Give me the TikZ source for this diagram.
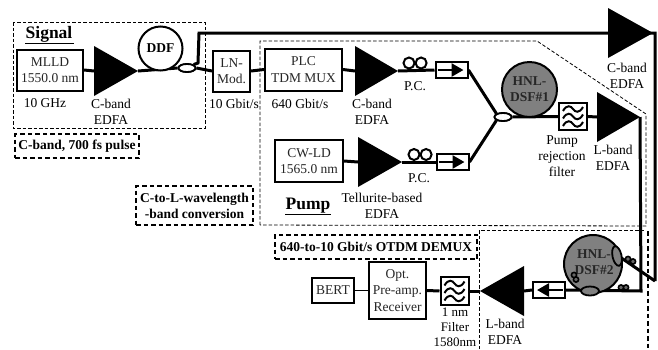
\documentclass[tikz,border=0pt]{standalone}
\usepackage{fontspec}
\setmainfont{Liberation Serif}
\usetikzlibrary{arrows.meta,shapes.geometric}
\newcommand{\amptri}[3]{\fill[black] (#1,#2-25) -- (#1,#2+25) -- (#1+#3,#2) -- cycle;}
\newcommand{\pcpair}[4]{\draw[line width=2pt] (#1,#2) circle[radius=#4] (#1+2.2*#4,#2) circle[radius=#4];}
\newcommand{\filtersym}[2]{%
  \foreach \dy in {-7.5,0,7.5}{\draw[line width=2pt] (#1-10,#2+\dy+2) .. controls (#1-6,#2+\dy-5) and (#1-2,#2+\dy-3) .. (#1,#2+\dy) .. controls (#1+2,#2+\dy+3) and (#1+6,#2+\dy+5) .. (#1+10,#2+\dy-2);}}
\begin{document}
\begin{tikzpicture}[x=1pt,y=-1pt,
  txt/.style={font=\fontsize{13.5}{16.3}\selectfont,inner sep=0pt,align=center,text=black},
  btxt/.style={font=\fontsize{13.5}{16}\selectfont\bfseries,inner sep=0pt,align=center},
  headtxt/.style={font=\fontsize{17.5}{19}\selectfont\bfseries,inner sep=0pt},
  devbox/.style={draw,line width=2pt,fill=white,inner sep=0pt,align=center,font=\fontsize{13.5}{16.5}\selectfont,text=black!85},
  fib/.style={line width=3pt},
  thinfib/.style={line width=1.7pt},
  dashthin/.style={line width=0.8pt,dash pattern=on 3.5pt off 2pt},
  dashthick/.style={line width=1.6pt,dash pattern=on 4.5pt off 3pt},
  coupler/.style={ellipse,draw,line width=1.8pt,fill=white,minimum width=17pt,minimum height=8pt,inner sep=0pt},
  gcoupler/.style={ellipse,draw,line width=1.8pt,fill=gray,minimum width=18pt,minimum height=9pt,inner sep=0pt},
  hnl/.style={circle,draw,line width=2pt,fill=gray,inner sep=0pt,align=center,font=\fontsize{13.5}{16}\selectfont\bfseries,text=black!85},
  isobox/.style={draw,line width=2pt,fill=white,minimum width=32pt,minimum height=16pt,inner sep=0pt},
  filtbox/.style={draw,line width=2pt,fill=white,minimum width=28pt,minimum height=27pt,inner sep=0pt},
  arr/.style={line width=2.6pt,-{Triangle[length=12pt,width=13pt]}}
]
\useasboundingbox (0,0) rectangle (658,349);
% dashed regions
\draw[dashthin,draw=black] (13,22) rectangle (205,128);
\draw[dashthin,draw=black] (260,225) -- (260,41) -- (537,41) -- (646,114) -- (646,226) -- cycle;
\draw[dashthin] (479,349) -- (479,230) -- (644,230);
\draw[dashthick] (648,231) -- (648,349);
\node[draw,dashthick,minimum width=124pt,minimum height=24pt,inner sep=0pt] (boxc) at (77,146) {};
\node[btxt] at (boxc) {C-band, 700 fs pulse};
\node[draw,dashthick,minimum width=117pt,minimum height=39pt,inner sep=0pt] (boxw) at (194.5,205.5) {};
\node[btxt] at (boxw) {C-to-L-wavelength\\-band conversion};
\node[draw,dashthick,minimum width=202pt,minimum height=24pt,inner sep=0pt] (boxd) at (376,247) {};
\node[btxt] at (boxd) {640-to-10 Gbit/s OTDM DEMUX};
% nodes
\node[devbox,minimum width=66pt,minimum height=41pt] (mlld) at (50,70) {MLLD\\1550.0 nm};
\node[devbox,minimum width=37pt,minimum height=41pt] (ln) at (231.5,71) {LN-\\Mod.};
\node[devbox,minimum width=77pt,minimum height=42pt] (plc) at (303.5,69.5) {PLC\\TDM MUX};
\node[devbox,minimum width=68pt,minimum height=42pt] (cw) at (309,161) {CW-LD\\1565.0 nm};
\node[coupler] (c1) at (187,68) {};
\node[coupler] (c2) at (503,117) {};
\node[isobox] (iso1) at (451.5,70) {};
\node[isobox] (iso2) at (452.5,162) {};
\node[filtbox] (f1) at (573,116.5) {};
\node[filtbox,minimum height=28pt] (f2) at (454.5,291) {};
\node[isobox] (iso3) at (549,290) {};
\node[devbox,minimum width=57pt,minimum height=57pt] (opt) at (397.5,290.5) {Opt.\\Pre-amp.\\Receiver};
\node[devbox,line width=1.2pt,minimum width=42pt,minimum height=25pt] (bert) at (333,290.5) {BERT};
\coordinate (tipA) at (138,71);
\coordinate (corner1) at (199,33);
\coordinate (amp1in) at (355,71);
\coordinate (amp2in) at (358,162);
\coordinate (amp3in) at (597,117);
\coordinate (amp4in) at (524,291);
\coordinate (topend) at (655,33);
\coordinate (botend) at (655,281);
\coordinate (lcorner) at (641,291);
\coordinate (ltip) at (640,117);
\coordinate (tip2) at (480,291);
\coordinate (m1) at (398,71);
\coordinate (m2) at (402,162);
% fibres
\draw[fib] (mlld.east) -- (94,71);
\draw[fib] (tipA) -- (c1.west);
\draw[fib] (c1.east) -- (ln.west);
\draw[fib] (c1.north east) -- (198,63) -- (corner1) -- (topend) -- (botend);
\draw[fib] (ln.east) -- (plc.west);
\draw[fib] (plc.east) -- (amp1in);
\draw[fib] (m1) -- (iso1.west);
\draw[fib] (cw.east) -- (amp2in);
\draw[fib] (m2) -- (iso2.west);
\draw[fib] (iso1.east) -- (c2.north west);
\draw[fib] (iso2.east) -- (c2.south west);
\draw[fib] (c2.east) -- (f1.west);
\draw[fib] (f1.east) -- (amp3in);
\draw[fib] (ltip) -- (lcorner) -- (iso3.east);
\draw[fib] (amp4in) -- (iso3.west);
\draw[fib] (tip2) -- (f2.east);
\draw[fib] (f2.west) -- (opt.east);
\draw[thinfib] (opt.west) -- (bert.east);
\node[coupler] at (c1) {};
\node[coupler] at (c2) {};
% isolators / filters (redrawn above the fibres)
\node[isobox] at (iso1) {};
\node[isobox] at (iso2) {};
\node[isobox] at (iso3) {};
\node[filtbox] at (f1) {};
\node[filtbox,minimum height=28pt] at (f2) {};
\draw[arr] (iso1.west)++(3,0) -- ++(26,0);
\draw[arr] (iso2.west)++(3,0) -- ++(26,0);
\draw[arr] (iso3.east)++(-3,0) -- ++(-26,0);
\filtersym{573}{116.5}
\filtersym{454.5}{291}
% amplifiers
\amptri{94}{71}{44}
\amptri{355}{71}{43}
\amptri{358}{162}{44}
\amptri{597}{117}{43}
\amptri{608}{33}{45}
\fill[black] (524,266) -- (524,316) -- (480,291) -- cycle;
% DDF
\node[circle,draw,line width=2pt,fill=white,minimum size=44pt,inner sep=0pt,font=\fontsize{13.5}{15}\selectfont\bfseries] (ddf) at (160.5,48.5) {DDF};
% HNLF
\node[hnl,minimum size=55pt] (h1) at (529.5,89.5) {HNL-\\DSF\#1};
\draw[fib] (botend) -- (617,255);
\node[hnl,minimum size=58pt] (h2) at (593,264) {};
\node[gcoupler] (c3) at (590,291) {};
\node[ellipse,draw,line width=1.8pt,fill=gray,minimum width=9pt,minimum height=20pt,inner sep=0pt,rotate=12] (c4) at (617,256) {};
\node[font=\fontsize{13.5}{16}\selectfont\bfseries,inner sep=0pt,align=center,text=black!85] at (594,262) {HNL-\\DSF\#2};
% polarisation controllers
\pcpair{409}{63}{}{5.5}
\pcpair{414}{154.5}{}{5.5}
\draw[line width=1.6pt,fill=black!60] (621,287.5) circle[radius=2.6] (626,287.5) circle[radius=2.6];
\draw[line width=1.6pt,fill=black!60] (628,259) circle[radius=2.6] (633,261.5) circle[radius=2.6];
\draw[line width=1.6pt,fill=black!60] (574,275) circle[radius=2.6] (576,279.5) circle[radius=2.6];
% labels
\node[headtxt,inner sep=0pt] (sig) at (49,34) {Signal};
\draw[line width=1pt] (sig.south west)++(0,1) -- ++(49,0);
\node[headtxt] (pmp) at (308,206) {Pump};
\draw[line width=1pt] (pmp.south west)++(0,1) -- ++(46,0);
\node[txt] at (45,103) {10 GHz};
\node[txt] at (111,112) {C-band\\EDFA};
\node[txt] at (234,104) {10 Gbit/s};
\node[txt] at (300,104) {640 Gbit/s};
\node[txt] at (372,112) {C-band\\EDFA};
\node[txt] at (415,86) {P.C.};
\node[txt] at (419,178) {P.C.};
\node[txt] at (382,206) {Tellurite-based\\EDFA};
\node[txt] at (562,156) {Pump\\rejection\\filter};
\node[txt] at (613,158) {L-band\\EDFA};
\node[txt] at (627,75.5) {C-band\\EDFA};
\node[txt,font=\fontsize{13}{15.2}\selectfont] at (455,327) {1 nm\\Filter\\1580nm};
\node[txt] at (505,332) {L-band\\EDFA};
\end{tikzpicture}
\end{document}
